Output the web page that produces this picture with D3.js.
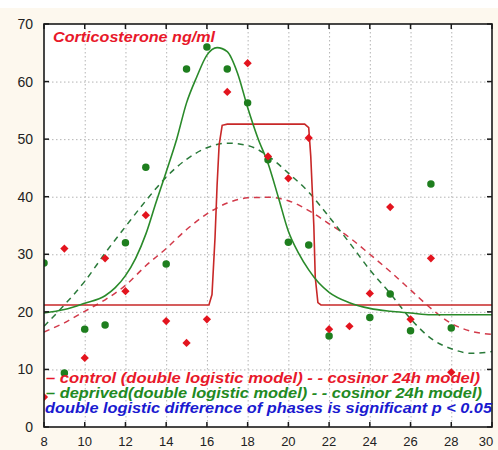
<!DOCTYPE html>
<html><head><meta charset="utf-8">
<script src="https://cdn.jsdelivr.net/npm/d3@7"></script>
<style>html,body{margin:0;padding:0;background:#fff;}svg{display:block;}</style>
</head><body>
<script>
// ---- data ----
const xTicks = [8,10,12,14,16,18,20,22,24,26,28,30];
const yTicks = [0,10,20,30,40,50,60,70];
const hours = [8,9,10,11,12,13,14,15,16,17,18,19,20,21,22,23,24,25,26,27,28];
const controlPts = [5.2,31,12,29.3,23.6,36.8,18.4,14.6,18.7,58.2,63.2,47,43.2,50.2,17,17.5,23.2,38.2,18.7,29.3,9.5];
const deprivedHours = [8,9,10,11,12,13,14,15,16,17,18,19,20,21,22,24,25,26,27,28];
const deprivedPts = [28.5,9.4,17,17.7,32,45.1,28.3,62.2,66,62.2,56.3,46.4,32.1,31.6,15.8,19,23.1,16.7,42.2,17.2];

const ctrlLogX = [8,16.1,16.25,16.4,16.5,16.6,16.75,17,20.8,21.0,21.1,21.25,21.32,21.45,21.6,30];
const ctrlLogY = [21.2,21.2,23,33,42,49,52.4,52.6,52.6,52,47,35,26,21.6,21.2,21.2];
const depLogX = [8,9,10,11,11.5,12,12.5,13,13.5,14,14.5,15,15.5,16,16.5,17,17.5,18,18.5,19,19.5,20,20.5,21,21.5,22,23,24,25,26,27,28,30];
const depLogY = [19.8,20.4,21.5,22.8,24.2,26.3,29.3,33.5,39,44.3,49.8,56.3,60.8,64.6,65.9,65.2,61.5,55.5,50.2,45.8,40,34,30.2,27.3,25,23.4,21.6,20.6,20.1,19.8,19.5,19.5,19.5];
const cosX = [8,9,10,11,12,13,14,15,16,17,18,19,20,21,22,23,24,25,26,27,28,29,30];
const ctrlCosY = [16.5,18.1,20.1,22.1,24.6,28,31,34.3,37,38.9,39.8,39.9,39.3,37.6,35.3,32.9,30,27,23.8,20.6,18,16.6,16.1];
const depCosY = [17.5,21.2,25.3,30.2,34.8,39.3,43.4,46.5,48.5,49.3,48.9,47.1,44.1,40.8,36.5,32,27.3,23.2,18.8,15.4,13.6,12.8,13.1];

const titleText = "Corticosterone ng/ml";
const legendLines = [
  "– control (double logistic model)  - - cosinor 24h model)",
  "– deprived(double logistic model) - - cosinor 24h model)",
  "double logistic difference of phases is significant p < 0.05"
];

// ---- layout ----
const W = 498, H = 450;
const L = 44, R = 492, T = 24, B = 427;
const RED = "#e3141e", REDLINE = "#c82828", REDDASH = "#d23a4a";
const GREEN = "#1e7e1e", GREENLINE = "#2a8a2a", GREENDASH = "#2a7a3a";

const svg = d3.select("body").append("svg").attr("width", W).attr("height", H);
svg.append("rect").attr("x",0).attr("y",0).attr("width",W).attr("height",H).attr("fill","#ffffff");
svg.append("rect").attr("x",0).attr("y",8).attr("width",W).attr("height",H-8).attr("fill","#fdf8ee");
svg.append("rect").attr("x",L).attr("y",T).attr("width",R-L).attr("height",B-T).attr("fill","#ffffff");

const x = d3.scaleLinear().domain([8,30]).range([L,R]);
const y = d3.scaleLinear().domain([0,70]).range([B,T]);

// grid
const grid = svg.append("g").attr("stroke","#b4b4b4").attr("stroke-width",1).attr("stroke-dasharray","1.5,2.5");
grid.selectAll("line.v").data(xTicks.slice(1,-1)).join("line")
  .attr("x1",d=>x(d)+0.5).attr("x2",d=>x(d)+0.5).attr("y1",T).attr("y2",B);
grid.selectAll("line.h").data(yTicks.slice(1,-1)).join("line").attr("class","h")
  .attr("x1",L).attr("x2",R).attr("y1",d=>y(d)+0.5).attr("y2",d=>y(d)+0.5);

// clip
svg.append("clipPath").attr("id","clip").append("rect").attr("x",L).attr("y",T).attr("width",R-L).attr("height",B-T);
const plot = svg.append("g").attr("clip-path","url(#clip)");

const lineLin = d3.line().x(d=>x(d[0])).y(d=>y(d[1]));
const lineSmooth = d3.line().x(d=>x(d[0])).y(d=>y(d[1])).curve(d3.curveMonotoneX);

plot.append("path").datum(cosX.map((v,i)=>[v,ctrlCosY[i]])).attr("d",lineSmooth)
  .attr("fill","none").attr("stroke",REDDASH).attr("stroke-width",1.5).attr("stroke-dasharray","6,5");
plot.append("path").datum(cosX.map((v,i)=>[v,depCosY[i]])).attr("d",lineSmooth)
  .attr("fill","none").attr("stroke",GREENDASH).attr("stroke-width",1.5).attr("stroke-dasharray","6,5");
plot.append("path").datum(ctrlLogX.map((v,i)=>[v,ctrlLogY[i]])).attr("d",lineLin)
  .attr("fill","none").attr("stroke",REDLINE).attr("stroke-width",1.6);
plot.append("path").datum(depLogX.map((v,i)=>[v,depLogY[i]])).attr("d",lineSmooth)
  .attr("fill","none").attr("stroke",GREENLINE).attr("stroke-width",1.6);

// points
const square = d3.symbol().type(d3.symbolSquare).size(34);
const circ = d3.symbol().type(d3.symbolCircle).size(44);
plot.selectAll("path.dep").data(deprivedHours.map((h,i)=>[h,deprivedPts[i]])).join("path").attr("class","dep")
  .attr("d",circ).attr("transform",d=>`translate(${x(d[0])},${y(d[1])})`).attr("fill",GREEN);
plot.selectAll("path.ctl").data(hours.map((h,i)=>[h,controlPts[i]])).join("path").attr("class","ctl")
  .attr("d",square).attr("transform",d=>`translate(${x(d[0])},${y(d[1])}) rotate(45)`).attr("fill",RED);

// frame
svg.append("rect").attr("x",L).attr("y",T).attr("width",R-L).attr("height",B-T)
  .attr("fill","none").attr("stroke","#1a1a1a").attr("stroke-width",1.6);

// ticks (inward)
const tk = svg.append("g").attr("stroke","#1a1a1a").attr("stroke-width",1.5);
xTicks.forEach(d=>{
  tk.append("line").attr("x1",x(d)).attr("x2",x(d)).attr("y1",B).attr("y2",B-5);
  tk.append("line").attr("x1",x(d)).attr("x2",x(d)).attr("y1",T).attr("y2",T+5);
});
yTicks.forEach(d=>{
  tk.append("line").attr("x1",L).attr("x2",L+5).attr("y1",y(d)).attr("y2",y(d));
  tk.append("line").attr("x1",R).attr("x2",R-5).attr("y1",y(d)).attr("y2",y(d));
});

// tick labels
const font = "'Liberation Sans', Arial, sans-serif";
svg.append("g").selectAll("text").data(yTicks).join("text")
  .attr("x",33).attr("y",d=>y(d)+5).attr("text-anchor","end")
  .attr("font-family",font).attr("font-size",14).attr("fill","#222").text(d=>d);
svg.append("g").selectAll("text").data(xTicks).join("text")
  .attr("x",d=>Math.min(x(d),486)).attr("y",446).attr("text-anchor","middle")
  .attr("font-family",font).attr("font-size",13).attr("fill","#222").text(d=>d);

// title
svg.append("text").attr("x",53).attr("y",42).attr("font-family",font).attr("font-size",14)
  .attr("font-weight","bold").attr("font-style","italic").attr("fill","#e8182a")
  .attr("textLength",162).attr("lengthAdjust","spacingAndGlyphs").text(titleText);

// legend
const legCfg = [
  {y:383, x:46, w:434, c:"#e8182a"},
  {y:398, x:46, w:436, c:"#228a22"},
  {y:413, x:45, w:447, c:"#1a1ad0"}
];
legendLines.forEach((t,i)=>{
  const c = legCfg[i];
  svg.append("text").attr("x",c.x).attr("y",c.y).attr("font-family",font).attr("font-size",14)
    .attr("font-weight","bold").attr("font-style","italic").attr("fill",c.c)
    .attr("textLength",c.w).attr("lengthAdjust","spacingAndGlyphs").text(t);
});
</script>
</body></html>
